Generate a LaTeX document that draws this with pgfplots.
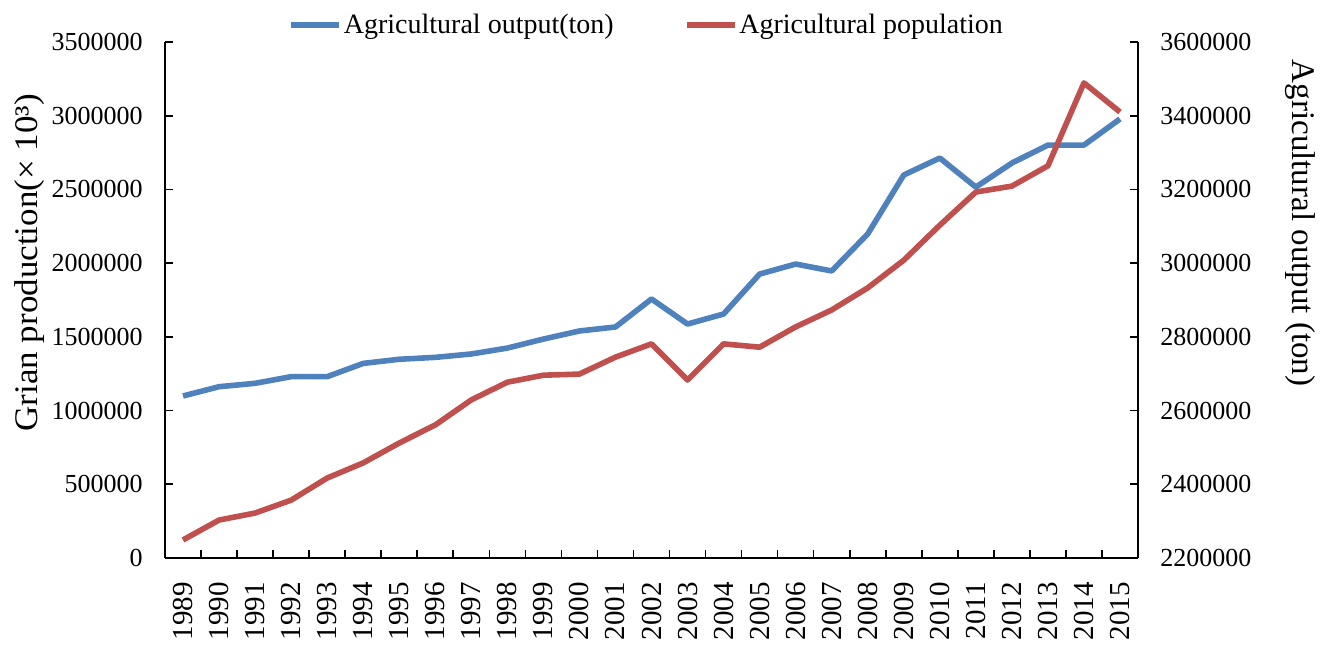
\documentclass[border=0pt]{standalone}
\usepackage{pgfplots}
\pgfplotsset{compat=1.18}
\usepackage{pgfplotstable}
\usepackage{fontspec}
\setmainfont{Liberation Serif}
\newfontfamily\widefont[FakeStretch=1.06]{Liberation Serif}
\definecolor{cblue}{HTML}{4F81BD}
\definecolor{cred}{HTML}{C0504D}
\newcommand\fs{\fontsize{13}{15.6}\selectfont}
\newcommand\fx{\fontsize{14.5}{17}\selectfont}
\newcommand\fl{\fontsize{16.5}{19.8}\selectfont}
\newcommand\fg{\fontsize{14}{16.8}\selectfont}

\pgfplotstableread{
year out pop
1989 1099000 2249000
1990 1162000 2303000
1991 1185000 2322000
1992 1230000 2357000
1993 1230000 2417000
1994 1320000 2458000
1995 1348000 2512000
1996 1361000 2561000
1997 1384000 2629000
1998 1424000 2677000
1999 1485000 2696000
2000 1540000 2699000
2001 1567000 2745000
2002 1757000 2781000
2003 1587000 2683000
2004 1655000 2781000
2005 1926000 2772000
2006 1994000 2827000
2007 1947000 2873000
2008 2198000 2933000
2009 2598000 3008000
2010 2713000 3103000
2011 2516000 3193000
2012 2679000 3209000
2013 2801000 3264000
2014 2801000 3489000
2015 2978000 3410000
}\datatable

\pgfplotsset{
  common/.style={
    scale only axis, width=486.5pt, height=258pt,
    at={(0,0)}, anchor=south west,
    xmin=-0.5, xmax=26.5,
    axis line style={line width=0.8pt, black},
    tick style={line width=0.8pt, black},
    tick align=inside, major tick length=4pt,
    tick label style={font=\fs},
    scaled y ticks=false,
    yticklabel style={/pgf/number format/fixed, /pgf/number format/1000 sep={}, /pgf/number format/assume math mode=true},
  }
}

\begin{document}
\begin{tikzpicture}
\path[use as bounding box] (-82.5pt,-43.5pt) rectangle (577.5pt,279pt);
\begin{axis}[common,
  ymin=0, ymax=3500000,
  axis x line*=bottom, axis y line*=left,
  xtick={0.5,1.5,...,25.5}, xticklabels={},
  extra x ticks={0,1,...,26},
  extra x tick labels={1989,1990,1991,1992,1993,1994,1995,1996,1997,1998,1999,2000,2001,2002,2003,2004,2005,2006,2007,2008,2009,2010,2011,2012,2013,2014,2015},
  extra x tick style={major tick length=0pt, tick label style={rotate=90, anchor=east, xshift=-8.5pt, font=\fx, /pgf/number format/assume math mode=true}},
  ytick={0,500000,1000000,1500000,2000000,2500000,3000000,3500000},
  yticklabel style={inner sep=0pt, xshift=-11pt},
  ylabel={Grian production(× 10³)},
  ylabel style={at={(axis description cs:-0.139,0.572)}, anchor=center, font=\fl\widefont},
]
\addplot[cblue, line width=2.8pt, line join=round, no marks] table[x expr=\coordindex, y=out]{\datatable};
\end{axis}
\begin{axis}[common,
  ymin=2200000, ymax=3600000,
  axis x line=none, axis y line*=right,
  ytick={2200000,2400000,2600000,2800000,3000000,3200000,3400000,3600000},
  yticklabel style={inner sep=0pt, xshift=11pt},
  ylabel={Agricultural output (ton)},
  ylabel style={at={(axis description cs:1.1665,0.649)}, anchor=center, rotate=180, font=\fl},
  legend style={at={(axis description cs:0.495,1.033)}, anchor=center, draw=none, fill=none, font=\fg,
    nodes={inner xsep=1pt},
    legend columns=2, /tikz/every even column/.append style={column sep=34pt}},
  legend cell align=left,
  legend image code/.code={\draw[#1] (0pt,0pt) -- (24pt,0pt);},
]
\addlegendimage{cblue, line width=2.8pt}
\addlegendentry{Agricultural output(ton)}
\addplot[cred, line width=2.8pt, line join=round, no marks] table[x expr=\coordindex, y=pop]{\datatable};
\addlegendentry{Agricultural population}
\end{axis}
\end{tikzpicture}
\end{document}
